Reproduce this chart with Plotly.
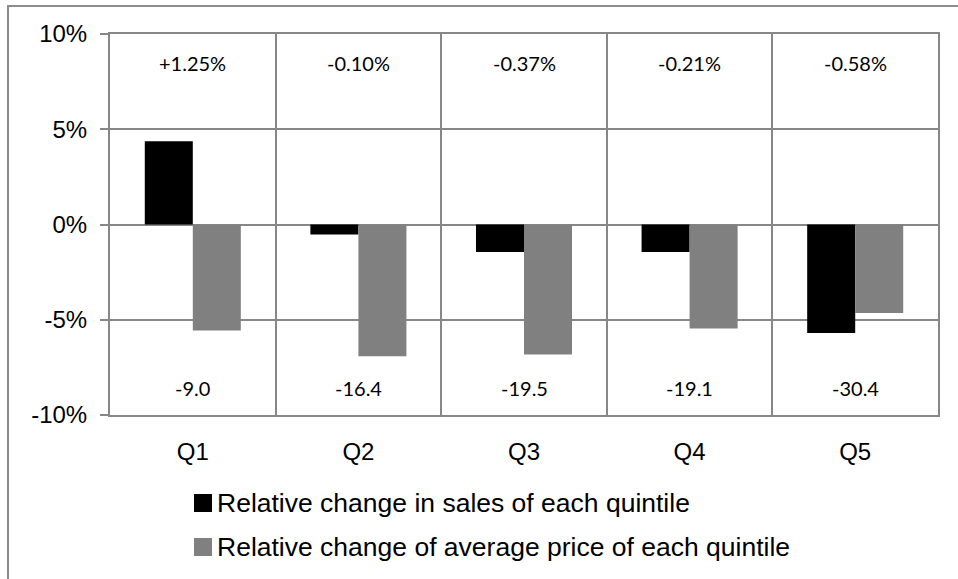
import plotly.graph_objects as go

# Quintile data (percent)
categories = ["Q1", "Q2", "Q3", "Q4", "Q5"]
sales_change = [4.37, -0.52, -1.45, -1.45, -5.69]
price_change = [-5.56, -6.91, -6.82, -5.46, -4.64]
top_labels = ["+1.25%", "-0.10%", "-0.37%", "-0.21%", "-0.58%"]
bottom_labels = ["-9.0", "-16.4", "-19.5", "-19.1", "-30.4"]
series_names = [
    "Relative change in sales of each quintile",
    "Relative change of average price of each quintile",
]
y_tick_vals = [-10, -5, 0, 5, 10]
y_tick_text = ["-10%", "-5%", "0%", "5%", "10%"]

W, H = 958, 579
ML, MR, MT, MB = 110, 20, 34, 164
PW, PH = W - ML - MR, H - MT - MB

GRID = "#878787"
SALES_COLOR = "#000000"
PRICE_COLOR = "#808080"


def px_x(px):
    return (px - ML) / PW


def px_y(py):
    return (H - MB - py) / PH


fig = go.Figure()
fig.add_trace(go.Bar(x=categories, y=sales_change, name=series_names[0],
                     marker=dict(color=SALES_COLOR, line=dict(width=0)),
                     showlegend=False))
fig.add_trace(go.Bar(x=categories, y=price_change, name=series_names[1],
                     marker=dict(color=PRICE_COLOR, line=dict(width=0)),
                     showlegend=False))

annotations = []
for cat, t, b in zip(categories, top_labels, bottom_labels):
    annotations.append(dict(x=cat, y=8.5, xref="x", yref="y", text=t, showarrow=False,
                            font=dict(family="Lato", size=20, color="#000000")))
    annotations.append(dict(x=cat, y=-8.6, xref="x", yref="y", text=b, showarrow=False,
                            font=dict(family="Lato", size=20, color="#000000")))

shapes = []
# legend swatches and labels
legend_rows = [(503, SALES_COLOR), (547, PRICE_COLOR)]
for (cy, col), name in zip(legend_rows, series_names):
    shapes.append(dict(type="rect", xref="paper", yref="paper",
                       x0=px_x(194), x1=px_x(212), y0=px_y(cy + 9), y1=px_y(cy - 9),
                       fillcolor=col, line=dict(width=0)))
    annotations.append(dict(x=px_x(215), y=px_y(cy), xref="paper", yref="paper",
                            text=name, showarrow=False, xanchor="left", yanchor="middle",
                            font=dict(family="Liberation Sans", size=26.5, color="#000000")))

# outer chart frame
shapes.append(dict(type="rect", xref="paper", yref="paper",
                   x0=px_x(8), x1=px_x(990), y0=px_y(620), y1=px_y(6),
                   line=dict(color="#8c8c8c", width=2), fillcolor="rgba(0,0,0,0)",
                   layer="below"))

fig.update_layout(
    width=W, height=H,
    margin=dict(l=ML, r=MR, t=MT, b=MB, pad=0),
    paper_bgcolor="white", plot_bgcolor="white",
    barmode="group", bargap=0.42, bargroupgap=0,
    showlegend=False,
    annotations=annotations, shapes=shapes,
    xaxis=dict(type="category", tickson="boundaries", showgrid=True,
               gridcolor=GRID, gridwidth=2, showline=True, linecolor=GRID,
               linewidth=2, mirror=True, ticks="", zeroline=False,
               tickfont=dict(family="Liberation Sans", size=24, color="#000000"),
               ticklabelstandoff=14),
    yaxis=dict(range=[-10, 10], tickvals=y_tick_vals, ticktext=y_tick_text,
               showgrid=True, gridcolor=GRID, gridwidth=2, zeroline=True,
               zerolinecolor=GRID, zerolinewidth=2, showline=True, linecolor=GRID,
               linewidth=2, mirror=True, ticks="outside", ticklen=8, tickwidth=2,
               tickcolor=GRID, ticklabelstandoff=8,
               tickfont=dict(family="Liberation Sans", size=24, color="#000000")),
)

fig.write_html("out.html")
